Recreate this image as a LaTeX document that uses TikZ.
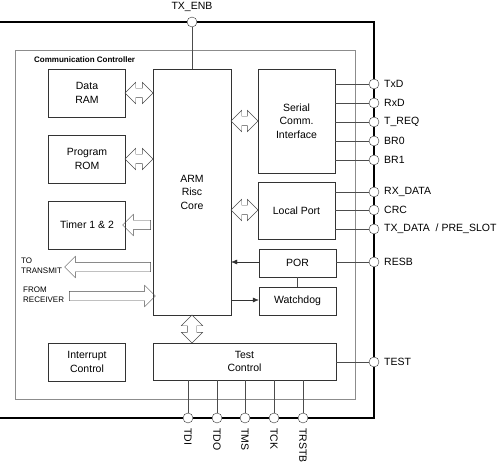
\documentclass[tikz,border=0pt]{standalone}
\usepackage{fontspec}
\setmainfont{Liberation Sans}
\usetikzlibrary{shapes.arrows,arrows.meta}

\begin{document}
\begin{tikzpicture}
[
x=1pt, y=-1pt,
every node/.style={font=\fontsize{10.5}{13.5}\selectfont},
Frame/.style={-, draw=black, line width=1.6pt},
Controller/.style={draw=black!45, thin},
Block/.style={rectangle, draw=black!80, fill=white, thin, align=center, minimum width=77pt, inner sep=2pt},
Pin/.style={circle, draw=black!80, fill=white, thin, minimum size=10pt, inner sep=0pt},
Hlabel/.style={anchor=west, inner sep=0pt, font=\fontsize{10.5}{13}\selectfont},
Vlabel/.style={rotate=-90, anchor=west, inner sep=0pt},
Wire/.style={-, draw=black!70, thin},
Signal/.style={-{Latex[length=6pt,width=5pt]}, draw=black!80, thin},
Bus/.style={double arrow, draw=black!70, thin, inner sep=4.5pt, minimum width=21pt, double arrow head extend=6pt, double arrow tip angle=90},
Port/.style={single arrow, draw=black!70, thin, inner sep=4.5pt, minimum width=21pt, single arrow head extend=6pt, single arrow tip angle=90},
Small/.style={font=\fontsize{8}{9.5}\selectfont, align=left, anchor=north west, inner sep=0pt},
Title/.style={font=\bfseries\fontsize{8}{9}\selectfont, anchor=west, inner sep=0pt}
]

\useasboundingbox (0,0) rectangle (500,462);

\draw[Frame] (-2,22)--(374,22)--(374,418)--(-2,418);
\draw[Controller] (15,50) rectangle (355,399);
\node[Title] (title) at (34,60) {Communication Controller};

\node[Block, minimum height=48pt] (ram) at (87,93) {Data\\RAM};
\node[Block, minimum height=48pt] (rom) at (87,159) {Program\\ROM};
\node[Block, minimum height=48pt] (timer) at (87,225) {Timer 1 \& 2};
\node[Block, minimum height=38pt] (irq) at (87,362) {Interrupt\\Control};
\node[Block, minimum width=78pt, minimum height=246pt] (arm) at (192,192) {ARM\\Risc\\Core};
\node[Block, minimum height=104pt] (sci) at (296.5,121) {Serial\\Comm.\\Interface};
\node[Block, minimum height=57pt] (lport) at (296.5,210.5) {Local Port};
\node[Block, minimum height=28pt] (por) at (297.5,263) {POR};
\node[Block, minimum height=28pt] (wdog) at (297.5,301) {Watchdog};
\node[Block, minimum width=183pt, minimum height=37pt] (test) at (244.5,361.5) {Test\\Control};

\node[Bus, minimum height=28pt] (rambus) at (139,93) {};
\node[Bus, minimum height=28pt] (rombus) at (139,159) {};
\node[Port, minimum height=28pt, shape border rotate=180] (timerbus) at (139,225) {};
\node[Bus, minimum height=27pt] (scibus) at (244.5,121) {};
\node[Bus, minimum height=27pt] (lportbus) at (244.5,210) {};
\node[Bus, minimum height=28pt, shape border rotate=90] (testbus) at (192,329) {};
\node[Port, minimum height=86pt, shape border rotate=180] (txport) at (110,267) {};
\node[Port, minimum height=86pt] (rxport) at (110,296) {};

\node[Small] (totx) at (21,258) {TO\\TRANSMIT};
\node[Small] (fromrx) at (23,287) {FROM\\RECEIVER};

\node[Pin] (txenb) at (192,22) {};
\node[Pin] (txd) at (374,84) {};
\node[Pin] (rxd) at (374,103) {};
\node[Pin] (treq) at (374,122) {};
\node[Pin] (brzero) at (374,141) {};
\node[Pin] (brone) at (374,160) {};
\node[Pin] (rxdata) at (374,192) {};
\node[Pin] (crc) at (374,210) {};
\node[Pin] (txdata) at (374,229) {};
\node[Pin] (resb) at (374,262) {};
\node[Pin] (tst) at (374,362) {};
\node[Pin] (tdi) at (188,418) {};
\node[Pin] (tdo) at (217,418) {};
\node[Pin] (tms) at (245,418) {};
\node[Pin] (tck) at (274,418) {};
\node[Pin] (trstb) at (303,418) {};

\node[anchor=base, inner sep=0pt] (txenblabel) at (192,10) {TX\_ENB};
\node[Hlabel] (txdlabel) at (384,84) {TxD};
\node[Hlabel] (rxdlabel) at (384,103) {RxD};
\node[Hlabel] (treqlabel) at (384,122) {T\_REQ};
\node[Hlabel] (brzerolabel) at (384,141) {BR0};
\node[Hlabel] (bronelabel) at (384,160) {BR1};
\node[Hlabel] (rxdatalabel) at (384,192) {RX\_DATA};
\node[Hlabel] (crclabel) at (384,210) {CRC};
\node[Hlabel] (txdatalabel) at (384,229) {TX\_DATA \ / PRE\_SLOT};
\node[Hlabel] (resblabel) at (384,262) {RESB};
\node[Hlabel] (tstlabel) at (384,362) {TEST};
\node[Vlabel] (tdilabel) at (188,428) {TDI};
\node[Vlabel] (tdolabel) at (217,428) {TDO};
\node[Vlabel] (tmslabel) at (245,428) {TMS};
\node[Vlabel] (tcklabel) at (274,428) {TCK};
\node[Vlabel] (trstblabel) at (303,428) {TRSTB};

\draw[Wire] (txenb) -- (arm);
\draw[Wire] (sci.east |- txd) -- (txd);
\draw[Wire] (sci.east |- rxd) -- (rxd);
\draw[Wire] (sci.east |- treq) -- (treq);
\draw[Wire] (sci.east |- brzero) -- (brzero);
\draw[Wire] (sci.east |- brone) -- (brone);
\draw[Wire] (lport.east |- rxdata) -- (rxdata);
\draw[Wire] (lport.east |- crc) -- (crc);
\draw[Wire] (lport.east |- txdata) -- (txdata);
\draw[Wire] (por.east |- resb) -- (resb);
\draw[Wire] (test.east |- tst) -- (tst);
\draw[Wire] (test.south -| tdi) -- (tdi);
\draw[Wire] (test.south -| tdo) -- (tdo);
\draw[Wire] (test.south -| tms) -- (tms);
\draw[Wire] (test.south -| tck) -- (tck);
\draw[Wire] (test.south -| trstb) -- (trstb);
\draw[Wire] (por) -- (wdog);

\draw[Signal] (por.west |- resb) -- (arm.east |- resb);
\draw[Signal] (arm.east |- 0,300) -- (wdog.west |- 0,300);
\end{tikzpicture}
\end{document}
